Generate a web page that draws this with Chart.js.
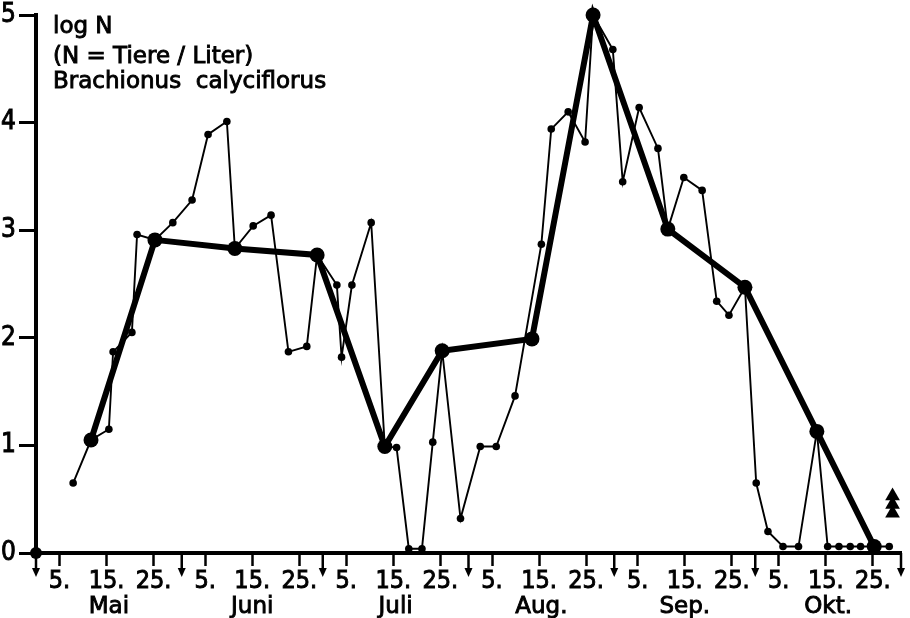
<!DOCTYPE html>
<html>
<head>
<meta charset="utf-8">
<script src="https://cdn.jsdelivr.net/npm/chart.js@4/dist/chart.umd.min.js"></script>
<style>
  body { margin: 0; background: #fff; }
  #wrap { width: 910px; height: 618px; }
</style>
</head>
<body>
<div id="wrap"><canvas id="brachionusChart" width="910" height="618"></canvas></div>
<script>
// days counted from 1 May, values are log N (N = animals per litre)
const sampleDays = [7.9, 11.7, 15.5, 16.4, 20.4, 21.5, 25.3, 29.1, 33.2, 36.6, 40.6, 42.3, 46.2, 50.0,
  53.7, 57.6, 59.8, 64.0, 65.0, 67.2, 71.3, 74.2, 76.7, 79.3, 82.1, 84.4, 86.4, 90.3, 94.5, 97.9,
  101.9, 107.5, 109.6, 113.2, 116.8, 118.5, 122.7, 124.8, 128.3, 132.3, 134.4, 137.8, 141.7, 144.8,
  147.4, 150.8, 153.2, 155.7, 158.9, 162.2, 166.1, 168.4, 170.8, 173.2, 175.4, 178.3, 181.5];
const sampleLogN = [0.65, 1.05, 1.15, 1.87, 2.05, 2.96, 2.91, 3.07, 3.28, 3.89, 4.01, 2.83, 3.04, 3.14,
  1.87, 1.92, 2.77, 2.49, 1.82, 2.49, 3.07, 0.99, 0.98, 0.04, 0.04, 1.03, 1.88, 0.32, 0.99, 0.99,
  1.46, 2.87, 3.94, 4.10, 3.82, 5.0, 4.68, 3.45, 4.14, 3.76, 3.01, 3.49, 3.37, 2.34,
  2.21, 2.47, 0.65, 0.20, 0.06, 0.06, 1.13, 0.06, 0.06, 0.06, 0.06, 0.06, 0.06];

// smoothed course (heavy line)
const meanDays = [11.7, 25.3, 42.3, 59.8, 74.2, 86.4, 105.5, 118.5, 134.4, 150.8, 166.1, 178.3];
const meanLogN = [1.05, 2.91, 2.83, 2.77, 0.99, 1.88, 1.99, 5.0, 3.01, 2.47, 1.13, 0.06];

const startDays = [0];
const startLogN = [0];

const markDays = [182.2, 182.2, 182.2];
const markLogN = [0.53, 0.45, 0.37];

const monthStarts = [0, 31, 61, 92, 123, 153, 184];
const monthNames = ['Mai', 'Juni', 'Juli', 'Aug.', 'Sep.', 'Okt.'];
const dayMarks = [5, 15, 25];
const yTicks = [0, 1, 2, 3, 4, 5];
const titleLines = ['log N', '(N = Tiere / Liter)', 'Brachionus  calyciflorus'];

const TEXT_FONT = '"DejaVu Sans"';
const NUM_FONT = '"Liberation Sans Narrow", "DejaVu Sans Condensed", "DejaVu Sans"';

const tickDays = [];
const tickLabels = [];
monthNames.forEach((m, i) => {
  dayMarks.forEach(d => {
    tickDays.push(monthStarts[i] + d);
    tickLabels.push(d + '.');
  });
});

const toPoints = (xs, ys) => xs.map((x, i) => ({ x: x, y: ys[i] }));

// arrows at month boundaries, month names and the text block
const decor = {
  id: 'decor',
  afterDraw(chart) {
    const ctx = chart.ctx;
    const xs = chart.scales.x;
    const base = chart.scales.y.getPixelForValue(0);
    ctx.save();
    ctx.fillStyle = '#000';
    ctx.strokeStyle = '#000';
    ctx.lineWidth = 2.5;
    monthStarts.forEach(d => {
      const px = xs.getPixelForValue(d);
      ctx.beginPath();
      ctx.moveTo(px, base);
      ctx.lineTo(px, base + 16);
      ctx.stroke();
      ctx.beginPath();
      ctx.moveTo(px - 4, base + 15);
      ctx.lineTo(px + 4, base + 15);
      ctx.lineTo(px, base + 24);
      ctx.closePath();
      ctx.fill();
    });
    ctx.font = '23px ' + TEXT_FONT;
    ctx.textAlign = 'center';
    ctx.textBaseline = 'alphabetic';
    ctx.lineWidth = 0.9;
    const label = (t, x, y) => { ctx.fillText(t, x, y); ctx.strokeText(t, x, y); };
    monthNames.forEach((m, i) => {
      const c = xs.getPixelForValue((monthStarts[i] + monthStarts[i + 1]) / 2);
      label(m, c, 613);
    });
    ctx.textAlign = 'left';
    const left = chart.chartArea.left + 17;
    [33, 63, 88].forEach((y, i) => label(titleLines[i], left, y));
    ctx.restore();
  }
};

new Chart(document.getElementById('brachionusChart').getContext('2d'), {
  type: 'scatter',
  data: {
    datasets: [
      {
        data: toPoints(sampleDays, sampleLogN),
        showLine: true,
        borderColor: '#000',
        backgroundColor: '#000',
        borderWidth: 1.9,
        pointRadius: 3.8,
        pointBorderWidth: 0,
        clip: false,
        order: 2
      },
      {
        data: toPoints(meanDays, meanLogN),
        showLine: true,
        borderColor: '#000',
        backgroundColor: '#000',
        borderWidth: 6,
        pointRadius: 7.5,
        pointBorderWidth: 0,
        clip: false,
        order: 1
      },
      {
        data: toPoints(startDays, startLogN),
        backgroundColor: '#000',
        pointRadius: 6,
        pointBorderWidth: 0,
        clip: false
      },
      {
        data: toPoints(markDays, markLogN),
        backgroundColor: '#000',
        pointStyle: 'triangle',
        pointRadius: 8.5,
        pointBorderWidth: 0,
        clip: false
      }
    ]
  },
  options: {
    responsive: false,
    animation: false,
    devicePixelRatio: 1,
    layout: { padding: { top: 15, right: 9, left: 0, bottom: 0 } },
    plugins: {
      legend: { display: false },
      tooltip: { enabled: false }
    },
    scales: {
      x: {
        type: 'linear',
        min: 0,
        max: 184,
        border: { display: true, color: '#000', width: 4 },
        grid: { drawOnChartArea: false, tickLength: 13, tickWidth: 2.5, tickColor: '#000' },
        ticks: {
          autoSkip: false,
          maxRotation: 0,
          color: '#000',
          textStrokeColor: '#000',
          textStrokeWidth: 0.9,
          padding: 0,
          font: { family: NUM_FONT, size: 25 },
          callback: (v, i) => tickLabels[i]
        },
        afterBuildTicks: s => { s.ticks = tickDays.map(v => ({ value: v })); },
        afterFit: s => { s.height = 65; s.paddingLeft = 0; s.paddingRight = 0; }
      },
      y: {
        min: 0,
        max: 5,
        border: { display: true, color: '#000', width: 4 },
        grid: { drawOnChartArea: false, tickLength: 17, tickWidth: 3, tickColor: '#000' },
        ticks: {
          color: '#000',
          textStrokeColor: '#000',
          textStrokeWidth: 0.9,
          padding: 3,
          font: { family: NUM_FONT, size: 26 },
          callback: v => v
        },
        afterBuildTicks: s => { s.ticks = yTicks.map(v => ({ value: v })); },
        afterFit: s => { s.width = 36; s.paddingTop = 0; s.paddingBottom = 0; }
      }
    }
  },
  plugins: [decor]
});
</script>
</body>
</html>
